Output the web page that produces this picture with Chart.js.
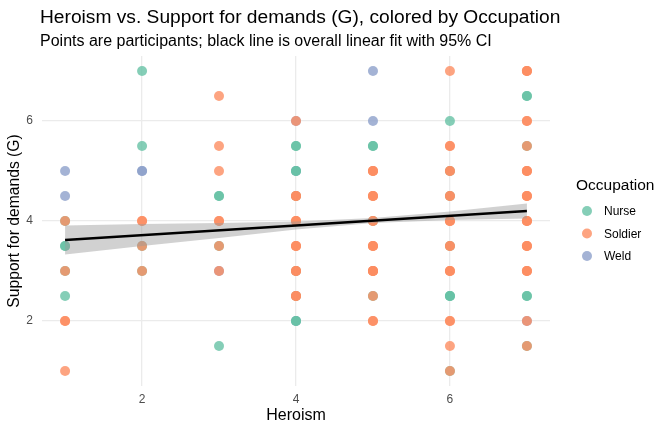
<!DOCTYPE html>
<html>
<head>
<meta charset="utf-8">
<script src="https://cdn.jsdelivr.net/npm/chart.js@4"></script>
<style>
  html, body { margin: 0; padding: 0; background: #fff; }
  #wrap { width: 672px; height: 432px; }
</style>
</head>
<body>
<div id="wrap"><canvas id="grafico"></canvas></div>
<script>
// points (overlapping points are listed twice)
const nurseX = [1, 1, 1, 1, 1, 2, 2, 2, 2, 3, 3, 3, 3, 4, 4, 4, 4, 4, 4, 4, 4, 4, 5, 5, 5, 5, 6, 6, 6, 6, 6, 6, 7, 7, 7, 7, 7, 7];
const nurseY = [4, 3.5, 3.5, 3, 2.5, 7, 5.5, 3.5, 3, 4.5, 4.5, 3.5, 1.5, 5.5, 5.5, 5, 5, 4.5, 3, 2.5, 2, 2, 5.5, 5.5, 4, 2.5, 6, 5, 4.5, 3.5, 2.5, 1, 6.5, 6.5, 5.5, 2.5, 2.5, 1.5];
const nurseY2 = [2.5, 2.5]; // x=6 second teal point
const soldierX = [1, 1, 1, 1, 1, 2, 2, 2, 2, 3, 3, 3, 3, 3, 3, 3,
  4, 4, 4, 4, 4, 4, 4, 4, 4, 4, 4, 4, 4, 4, 4, 4,
  5, 5, 5, 5, 5, 5, 5, 5, 5, 5, 5, 5, 5, 5, 5, 5, 5, 5,
  6, 6, 6, 6, 6, 6, 6, 6, 6, 6, 6, 6, 6, 6, 6, 6, 6, 6, 6,
  7, 7, 7, 7, 7, 7, 7, 7, 7, 7, 7, 7, 7, 7, 7, 7, 7, 7, 7, 7, 7, 7, 7, 7, 7];
const soldierY = [4, 3, 2, 2, 1, 4, 4, 3.5, 3, 6.5, 5.5, 5, 4, 4, 3.5, 3,
  6, 4.5, 4.5, 4, 4, 4, 3.5, 3.5, 3.5, 3, 3, 2.5, 2.5, 4.5, 3, 2.5,
  5, 5, 5, 4.5, 4.5, 4.5, 4, 4, 3.5, 3.5, 3.5, 3, 3, 3, 2.5, 2, 2, 3,
  7, 5.5, 5.5, 5, 5, 4.5, 4.5, 4, 4, 4, 3.5, 3.5, 3, 3, 3, 2, 2, 1.5, 1,
  7, 7, 7, 6, 6, 5.5, 5, 5, 5, 4.5, 4.5, 4.5, 4, 4, 4, 3.5, 3.5, 3.5, 3, 3, 3, 2, 1.5];
const weldX = [1, 1, 2, 2, 3, 4, 4, 4, 5, 5, 7];
const weldY = [5, 4.5, 5, 5, 3, 6, 5, 2, 7, 6, 2];

// overall linear fit and 95% CI band
const fitX = [1, 7];
const fitY = [3.62, 4.20];
const ciX = [1, 2, 3, 4, 5, 6, 7];
const ciLower = [3.33, 3.50, 3.66, 3.83, 3.96, 4.02, 4.05];
const ciUpper = [3.91, 3.94, 3.96, 3.99, 4.06, 4.19, 4.35];

const xTicks = [2, 4, 6];
const yTicks = [2, 4, 6];
const groups = ['Nurse', 'Soldier', 'Weld'];
const groupColors = ['rgba(102,194,165,0.8)', 'rgba(252,141,98,0.8)', 'rgba(141,160,203,0.8)'];

const pts = (xs, ys) => xs.map((x, i) => ({ x: x, y: ys[i] }));
const nursePts = pts(nurseX, nurseY).concat(pts([6, 6], nurseY2));

const FONT = '"Liberation Sans", Arial, sans-serif';
Chart.defaults.font.family = FONT;

const textPlugin = {
  id: 'texts',
  afterDraw(chart) {
    const ctx = chart.ctx;
    ctx.save();
    ctx.fillStyle = '#000';
    ctx.textAlign = 'left';
    ctx.textBaseline = 'alphabetic';
    ctx.font = '19.2px ' + FONT;
    ctx.fillText('Heroism vs. Support for demands (G), colored by Occupation', 40, 22.5);
    ctx.font = '16px ' + FONT;
    ctx.fillText('Points are participants; black line is overall linear fit with 95% CI', 40, 46);
    // legend
    ctx.font = '15.5px ' + FONT;
    ctx.fillText('Occupation', 576, 190);
    ctx.font = '12px ' + FONT;
    ctx.textBaseline = 'middle';
    groups.forEach((g, i) => {
      const y = 211 + i * 22.5;
      ctx.fillStyle = groupColors[i];
      ctx.beginPath();
      ctx.arc(587, y, 5, 0, Math.PI * 2);
      ctx.fill();
      ctx.fillStyle = '#000';
      ctx.fillText(g, 604, y + 1);
    });
    ctx.restore();
  }
};

const axis = (ticks, title, horizontal) => ({
  type: 'linear',
  min: 0.7,
  max: 7.3,
  afterBuildTicks: s => { s.ticks = ticks.map(v => ({ value: v })); },
  afterFit: s => { if (horizontal) s.height = 46; else s.width = 42; },
  ticks: { color: '#4d4d4d', font: { size: 12 }, padding: horizontal ? 6 : 9 },
  grid: { color: '#ebebeb', lineWidth: 1.3, drawTicks: false },
  border: { display: false },
  title: {
    display: true, text: title, color: '#000', font: { size: horizontal ? 16 : 15.7 },
    padding: horizontal ? { top: 0, bottom: 6.4 } : { top: 5, bottom: 0 }
  }
});

new Chart(document.getElementById('grafico'), {
  type: 'scatter',
  data: {
    datasets: [
      { label: 'fit', data: pts(fitX, fitY), showLine: true, borderColor: '#000', borderWidth: 2.6, pointRadius: 0, order: 0 },
      { label: 'ciLower', data: pts(ciX, ciLower), showLine: true, borderWidth: 0, pointRadius: 0, order: 1 },
      { label: 'ciUpper', data: pts(ciX, ciUpper), showLine: true, borderWidth: 0, pointRadius: 0, order: 1,
        fill: '-1', backgroundColor: 'rgba(153,153,153,0.45)' },
      { label: 'Soldier', data: pts(soldierX, soldierY), backgroundColor: groupColors[1], borderWidth: 0, pointRadius: 5, order: 2 },
      { label: 'Nurse', data: nursePts, backgroundColor: groupColors[0], borderWidth: 0, pointRadius: 5, order: 3 },
      { label: 'Weld', data: pts(weldX, weldY), backgroundColor: groupColors[2], borderWidth: 0, pointRadius: 5, order: 4 }
    ]
  },
  options: {
    responsive: true,
    maintainAspectRatio: false,
    animation: false,
    layout: { padding: { top: 56, right: 122, left: 0, bottom: 0 } },
    plugins: {
      legend: { display: false },
      tooltip: { enabled: false }
    },
    scales: {
      x: axis(xTicks, 'Heroism', true),
      y: axis(yTicks, 'Support for demands (G)', false)
    }
  },
  plugins: [textPlugin]
});
</script>
</body>
</html>
